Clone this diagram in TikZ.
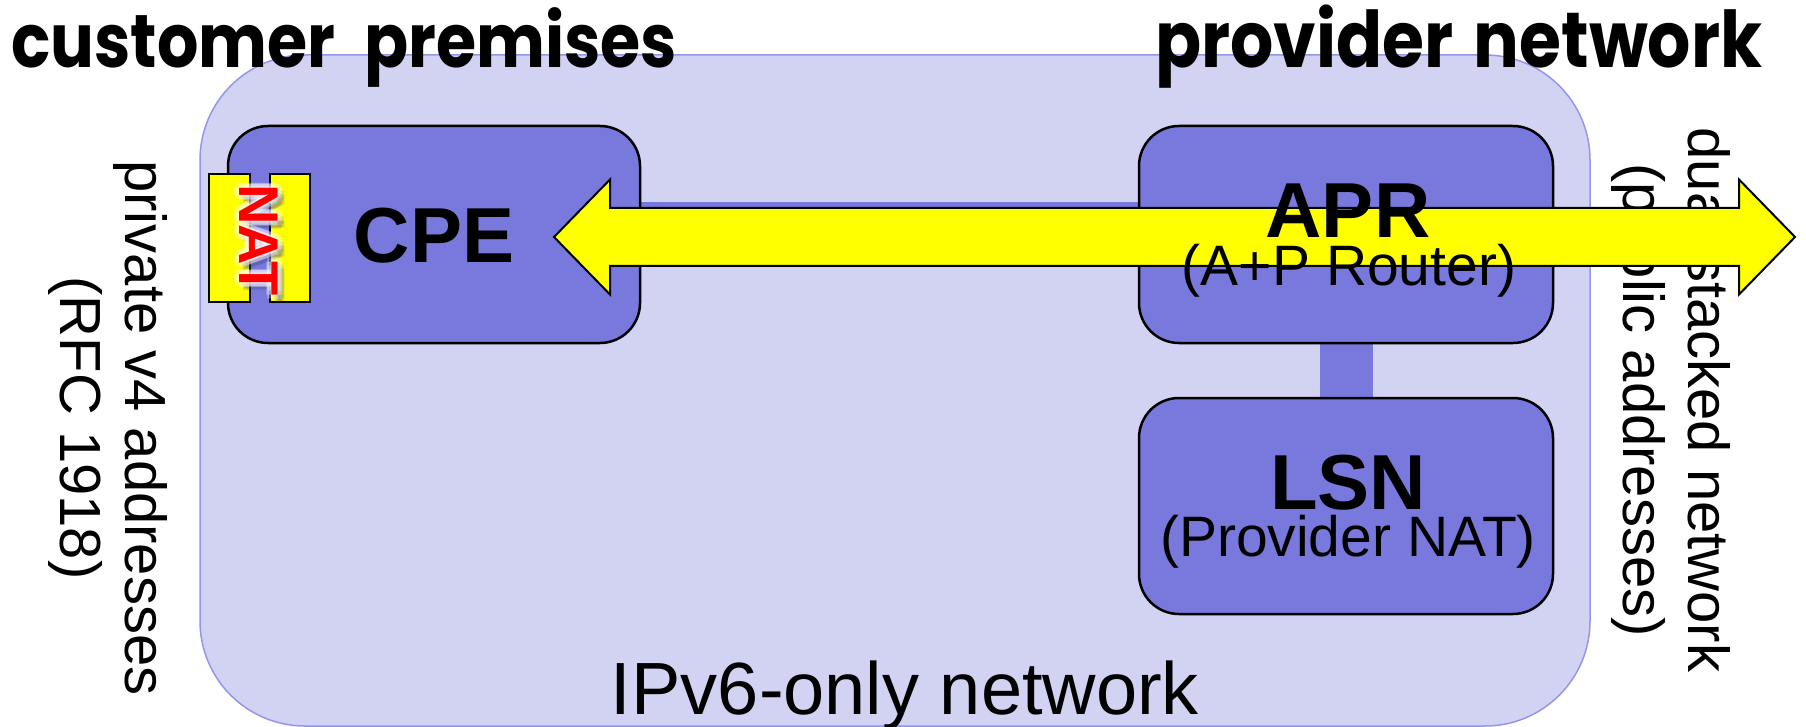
\documentclass[tikz,border=0pt]{standalone}
\usepackage{fontspec}
\setmainfont{Liberation Sans}
\newfontfamily\handfont{Poppins}
\usetikzlibrary{calc}

\definecolor{netfill}{RGB}{210,210,242}
\definecolor{netline}{RGB}{150,150,232}
\definecolor{boxfill}{RGB}{121,121,221}
\definecolor{arrowfill}{RGB}{255,255,0}
\definecolor{natshadow}{RGB}{70,70,140}

\pgfdeclarelayer{base}
\pgfdeclarelayer{links}
\pgfsetlayers{base,links,main}

\tikzset{
  netarea/.style={draw=netline, line width=1.5pt, fill=netfill,
    rounded corners=105pt, inner sep=0pt},
  devbox/.style={draw=black, line width=2.5pt, fill=boxfill,
    rounded corners=40pt, inner sep=0pt,
    minimum width=414pt, minimum height=217pt},
  linkbar/.style={draw=boxfill, line width=54pt},
  natbar/.style={draw=black, line width=2pt, fill=arrowfill, inner sep=0pt,
    minimum width=41pt, minimum height=128pt},
  nattext/.style={rotate=-90, inner sep=0pt,
    font=\bfseries\fontsize{56}{60}\selectfont},
  bigarrow/.style={draw=black, line width=2pt, fill=arrowfill, line join=miter},
  devname/.style={anchor=base, inner sep=0pt,
    font=\bfseries\fontsize{78}{80}\selectfont},
  devsub/.style={anchor=base, inner sep=0pt,
    font=\fontsize{57}{60}\selectfont},
  sidelabel/.style={rotate=-90, align=center, inner sep=0pt,
    font=\fontsize{58}{65}\selectfont},
  areatitle/.style={anchor=base west, inner sep=0pt},
}
\newcommand{\titletext}[2]{\resizebox{#1}{!}{\scalebox{1}[1.15]{\handfont\bfseries\fontsize{72}{80}\selectfont #2}}}

\begin{document}
\begin{tikzpicture}[x=1pt,y=-1pt]
\useasboundingbox (0,0) rectangle (1806,727);

\begin{pgfonlayer}{base}
\fill[white] (0,0) rectangle (1806,727);
% IPv6-only core network
\node[netarea, minimum width=1390pt, minimum height=671pt] (net) at (895,390.5) {};
\end{pgfonlayer}

% area titles
\node[areatitle] (custtitle) at (11,68) {\titletext{666pt}{customer\hspace{0.45em}premises}};
\node[areatitle] (provtitle) at (1155,68) {\titletext{607pt}{provider\hspace{0.3em}network}};

% devices
\node[devbox, minimum width=412pt] (cpe) at (434,234.5) {};
\node[devbox] (apr) at (1346,234.5) {};
\node[devbox, minimum height=216pt] (lsn) at (1346,506) {};

% links between devices, kept under the boxes
\begin{pgfonlayer}{links}
\draw[linkbar] ([yshift=5.5pt]cpe.east) -- ([yshift=5.5pt]apr.west);
\draw[linkbar, line width=53pt] (apr.south) -- (lsn.north);
\end{pgfonlayer}

% NAT inside the CPE
\node[natbar] (natl) at (229,238) {};
\node[natbar, minimum width=40pt] (natr) at (290,238) {};
\coordinate (natc) at (259,240);
\foreach \dx/\dy [count=\i] in {3/4,5/6,6/3,4/8,7/7}
  \node[nattext, text=natshadow, opacity=0.18] (natshade\i) at ($(natc)+(\dx,\dy)$) {NAT};
\foreach \dx/\dy [count=\i] in {-5/0,5/0,0/-5,0/5,-4/-4,4/4,-4/4,4/-4,-2/0,2/0,0/-2,0/2}
  \node[nattext, text=white, opacity=0.3] (natglow\i) at ($(natc)+(\dx,\dy)$) {NAT};
\node[nattext, text=red] (nat) at (natc) {NAT};

% address-space labels on both sides
\node[sidelabel] (privlabel) at (108,428) {private v4 addresses\\(RFC 1918)};
\node[sidelabel] (publabel) at (1671,400) {dual stacked network\\(public addresses)};

% end-to-end IPv4 path through the A+P router
\coordinate (tipL) at (554,237);
\coordinate (tipR) at (1795,237);
\draw[bigarrow] (tipL) -- ($(tipL)+(56,-57.5)$) -- ($(tipL)+(56,-29)$)
  -- ($(tipR)+(-56,-29)$) -- ($(tipR)+(-56,-57.5)$) -- (tipR)
  -- ($(tipR)+(-56,57.5)$) -- ($(tipR)+(-56,29)$)
  -- ($(tipL)+(56,29)$) -- ($(tipL)+(56,57.5)$) -- cycle;

% device labels
\node[devname] (cpetxt) at (434,263) {CPE};
\node[devname] (aprtxt) at (1348,238) {APR};
\node[devsub] (aprsub) at (1349,285) {(A+P Router)};
\node[devname] (lsntxt) at (1348,509) {LSN};
\node[devsub] (lsnsub) at (1348,556) {(Provider NAT)};

% network label
\node[anchor=base, inner sep=0pt, font=\fontsize{74}{80}\selectfont] (v6label) at (905,714) {IPv6-only network};
\end{tikzpicture}
\end{document}
